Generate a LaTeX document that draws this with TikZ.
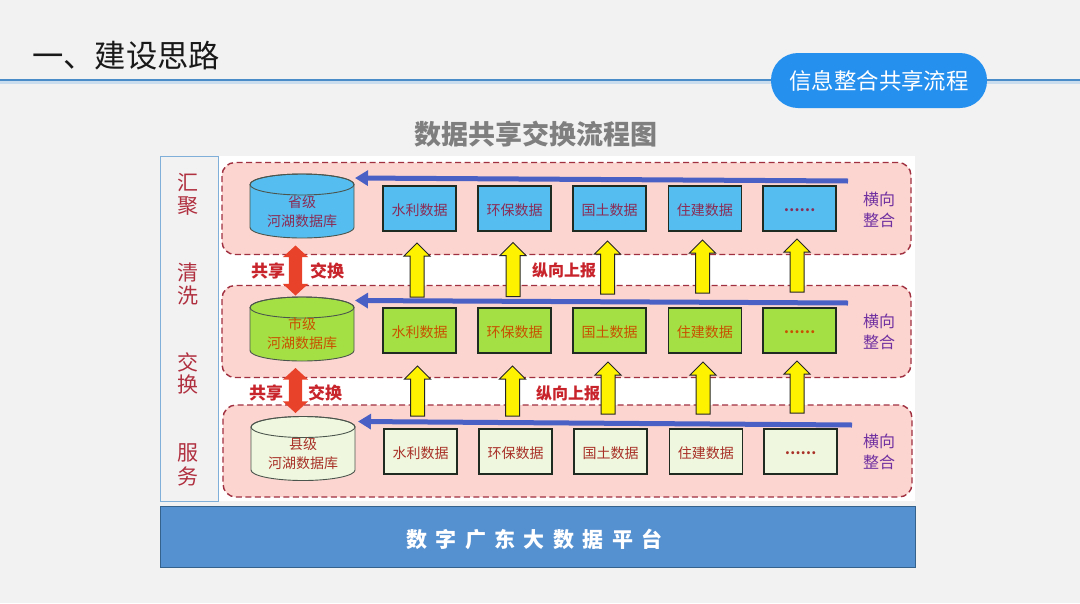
\documentclass[tikz,border=0pt]{standalone}
\usepackage{fontspec}
\setmainfont{Noto Sans CJK SC}
\usetikzlibrary{shapes.arrows,arrows.meta}
\definecolor{pagebg}{HTML}{F2F2F2}
\definecolor{headline}{HTML}{4A8CC8}
\definecolor{pill}{HTML}{2690EE}
\definecolor{panelfill}{HTML}{FCD5D0}
\definecolor{paneldash}{HTML}{A03040}
\definecolor{skyfill}{HTML}{55BDEF}
\definecolor{limefill}{HTML}{A4E044}
\definecolor{palefill}{HTML}{EFF8DE}
\definecolor{boxline}{HTML}{1F2A20}
\definecolor{blueline}{HTML}{4A60C4}
\definecolor{redarrow}{HTML}{E8432A}
\definecolor{redtext}{HTML}{C8242C}
\definecolor{sidetext}{HTML}{B03040}
\definecolor{purpletext}{HTML}{7030A0}
\definecolor{platform}{HTML}{5590D0}
\definecolor{gtitle}{HTML}{7F7F7F}
\definecolor{txtsky}{HTML}{8A2C55}
\definecolor{txtlime}{HTML}{C85000}
\definecolor{txtpale}{HTML}{A83028}
\newcommand{\fs}[1]{\fontsize{#1}{#1}\selectfont}
\newcommand{\fsdb}{\fontsize{14}{19}\selectfont}
% x centre, top y, fill colour
\newcommand{\drumshape}[3]{%
  \draw[drumline,fill=#3] (#1-52,#2+10.5) -- (#1-52,#2+53.5)
    arc[start angle=180,end angle=360,x radius=52pt,y radius=10.5pt]
    -- (#1+52,#2+10.5)
    arc[start angle=0,end angle=180,x radius=52pt,y radius=10.5pt] -- cycle;
  \draw[drumline] (#1,#2+10.5) ellipse[x radius=52pt,y radius=10.5pt];
}
\tikzset{
  panelbox/.style={draw=paneldash,fill=panelfill,line width=1.4pt,dash pattern=on 6pt off 3.5pt,rounded corners=13pt,minimum width=689pt,minimum height=92pt,inner sep=0pt},
  databox/.style={draw=boxline,line width=1.1pt,minimum width=73pt,minimum height=45pt,inner sep=0pt,font=\fs{14},text height=13pt,text depth=0pt},
  drumline/.style={draw=boxline!80,line width=0.9pt},
  dbtext/.style={inner sep=0pt,align=center,font=\fsdb},
  yarrow/.style={single arrow,draw=black!85,fill=yellow,line width=1pt,minimum width=25pt,single arrow head extend=6pt,single arrow tip angle=90,shape border rotate=90,inner sep=6.5pt,yshift=-3.5pt},
  rarrow/.style={double arrow,fill=redarrow,draw=none,minimum width=25pt,double arrow head extend=6pt,double arrow tip angle=95,shape border rotate=90,inner sep=6.5pt},
  blarrow/.style={draw=blueline,line width=5pt,-{Triangle[length=13pt,width=15pt]}},
  sidelabel/.style={text=sidetext,font=\fs{21},inner sep=0pt},
  joinlabel/.style={text=redtext,font=\fs{17}\bfseries,inner sep=0pt},
  uplabel/.style={text=redtext,font=\fs{16}\bfseries,inner sep=0pt},
  hlabel/.style={text=purpletext,font=\fs{16},inner sep=0pt,align=center},
}
\begin{document}
\begin{tikzpicture}[x=1pt,y=-1pt]
\useasboundingbox (0,0) rectangle (1080,603);
\fill[pagebg] (0,0) rectangle (1080,603);
% header
\fill[headline!30] (0,81) rectangle (1080,84);
\draw[headline,line width=2.8pt] (0,80) -- (1080,80);
\node[inner sep=0pt,anchor=west,font=\fs{31.3},text=black!90] (title) at (32,56) {一、建设思路};
\node[fill=pill,rounded corners=27pt,minimum width=216pt,minimum height=55pt,inner sep=0pt,text=white,font=\fs{22.4}] (pilln) at (879,80.5) {信息整合共享流程};
\node[inner sep=0pt,text=gtitle,font=\fs{27}\bfseries] (subtitle) at (536,134) {数据共享交换流程图};
% canvases
\fill[white] (218,156) rectangle (915,501);
\node[draw=headline!70,fill=pagebg,line width=1pt,minimum width=58pt,minimum height=345pt,inner sep=0pt] (side) at (189,328.5) {};
\node[draw=headline!70!black,fill=platform,line width=0.8pt,minimum width=755pt,minimum height=61pt,inner sep=0pt,text=white,font=\fs{21}\bfseries,text height=22pt,text depth=0pt] (plat) at (537.5,536.5) {数\kern8.4pt字\kern8.4pt广\kern8.4pt东\kern8.4pt大\kern8.4pt数\kern8.4pt据\kern8.4pt平\kern8.4pt台\kern6pt};
% side labels
\node[sidelabel] (s1) at (188,183) {汇}; \node[sidelabel] (s2) at (188,206) {聚};
\node[sidelabel] (s3) at (188,273) {清}; \node[sidelabel] (s4) at (188,296) {洗};
\node[sidelabel] (s5) at (188,362) {交}; \node[sidelabel] (s6) at (188,385) {换};
\node[sidelabel] (s7) at (188,453) {服}; \node[sidelabel] (s8) at (188,476) {务};
% panels
\node[panelbox] (p1) at (566.5,208.5) {};
\node[panelbox] (p2) at (566.5,331.5) {};
\node[panelbox] (p3) at (567.5,451) {};
% databases
\drumshape{302}{174}{skyfill}
\drumshape{302}{297}{limefill}
\drumshape{303}{416.5}{palefill}
\node[dbtext,text=txtsky] (dt1) at (302,211.5) {省级\\河湖数据库};
\node[dbtext,text=txtlime] (dt2) at (302,333.5) {市级\\河湖数据库};
\node[dbtext,text=txtpale] (dt3) at (303,453.5) {县级\\河湖数据库};
% data boxes
\foreach \r/\y/\dx/\f/\t in {1/208.5/0/skyfill/txtsky, 2/330.5/0/limefill/txtlime, 3/451.5/1/palefill/txtpale}{
  \node[databox,fill=\f,text=\t] (b\r1) at (419.5+\dx,\y) {水利数据};
  \node[databox,fill=\f,text=\t] (b\r2) at (514.5+\dx,\y) {环保数据};
  \node[databox,fill=\f,text=\t] (b\r3) at (609.5+\dx,\y) {国土数据};
  \node[databox,fill=\f,text=\t] (b\r4) at (704.8+\dx,\y) {住建数据};
  \node[databox,fill=\f,text=\t,font=\fs{14}\bfseries,text height=6pt] (b\r5) at (799.5+\dx,\y) {……};
}
% horizontal flow arrows
\coordinate (h1) at (848,181); \coordinate (e1) at (355,178);
\coordinate (h2) at (848,303); \coordinate (e2) at (355,300.5);
\coordinate (h3) at (852,425); \coordinate (e3) at (358,421.5);
\draw[blarrow] (h1) -- (e1);
\draw[blarrow] (h2) -- (e2);
\draw[blarrow] (h3) -- (e3);
% upward arrows
\node[yarrow,minimum height=54pt] (u11) at (417,270) {};
\node[yarrow,minimum height=54pt] (u12) at (513,269.5) {};
\node[yarrow,minimum height=53pt] (u13) at (607.5,267.5) {};
\node[yarrow,minimum height=53pt] (u14) at (702.5,266.5) {};
\node[yarrow,minimum height=53pt] (u15) at (797,265.5) {};
\node[yarrow,minimum height=50pt] (u21) at (417.5,391) {};
\node[yarrow,minimum height=50pt] (u22) at (512.5,391) {};
\node[yarrow,minimum height=52pt] (u23) at (608,388) {};
\node[yarrow,minimum height=52pt] (u24) at (703,388) {};
\node[yarrow,minimum height=52pt] (u25) at (797,387) {};
% exchange arrows
\node[rarrow,minimum height=50pt] (x1) at (295.5,270.5) {};
\node[rarrow,minimum height=45pt] (x2) at (295.5,390.5) {};
% labels
\node[joinlabel] (j1) at (268,271) {共享};
\node[joinlabel] (j2) at (327,271) {交换};
\node[joinlabel] (j3) at (266,393) {共享};
\node[joinlabel] (j4) at (325,393) {交换};
\node[uplabel] (up1) at (564,270) {纵向上报};
\node[uplabel] (up2) at (568,393) {纵向上报};
\node[hlabel] (hl1) at (879,210) {横向\\[5pt]整合};
\node[hlabel] (hl2) at (879,332) {横向\\[5pt]整合};
\node[hlabel] (hl3) at (879,452) {横向\\[5pt]整合};
\end{tikzpicture}
\end{document}
